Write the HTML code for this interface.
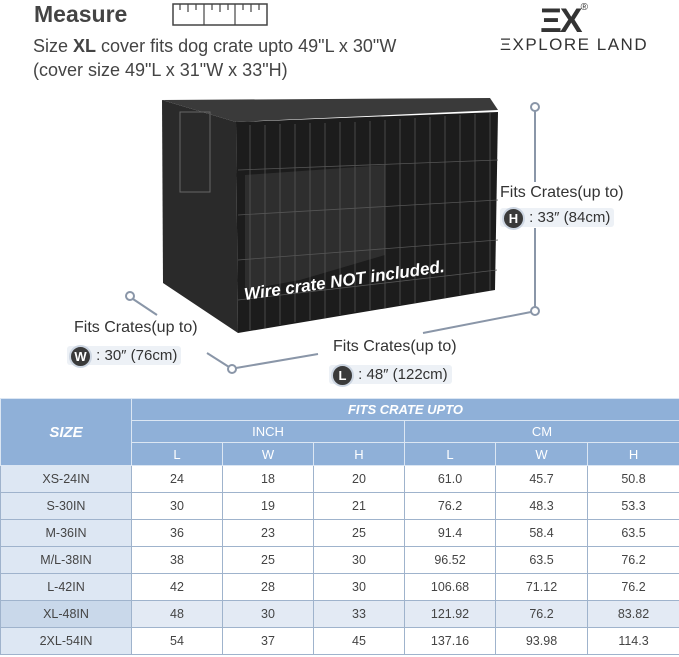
<!DOCTYPE html>
<html><head><style>
body{margin:0;width:679px;height:657px;background:#fff;font-family:"Liberation Sans",sans-serif;position:relative;overflow:hidden}
.a{position:absolute;white-space:nowrap}
table{position:absolute;left:0;top:398px;border-collapse:collapse;width:679px;table-layout:fixed}
td{text-align:center;font-size:12.5px;color:#444;border:1px solid #9fb3cc;padding:0;height:26px}
.h td{background:#8fb0d8;color:#fff;border-color:#dbe6f3;height:21px;font-size:13px}
.h3 td{height:22px}
td.s{background:#dde7f3}
tr.x td{background:#e3eaf4}
tr.x td.s{background:#c9d8ea}
.b{display:inline-block;width:19px;height:19px;border-radius:50%;background:#3a3a3a;color:#fff;font-weight:bold;font-size:13px;text-align:center;line-height:19px;border:2px solid #cdd6e2;vertical-align:middle}
.p{background:#edf1f6;border-radius:3px;padding:1px 4px 1px 2px}
</style></head><body>
<div class="a" style="left:34px;top:1px;font-size:23px;font-weight:bold;color:#444">Measure</div>
<svg class="a" style="left:172px;top:3px" width="96" height="24"><rect x="1" y="1" width="94" height="21" fill="#fff" stroke="#444" stroke-width="1.5"/><g stroke="#444" stroke-width="1.2"><line x1="32" y1="1" x2="32" y2="22"/><line x1="63" y1="1" x2="63" y2="22"/><path d="M8 1v6M16 1v8M24 1v6M40 1v6M48 1v8M56 1v6M71 1v6M79 1v8M87 1v6"/></g></svg>
<div class="a" style="left:33px;top:36px;font-size:18px;color:#444">Size <b>XL</b> cover fits dog crate upto 49"L x 30"W</div>
<div class="a" style="left:33px;top:60px;font-size:18px;color:#444">(cover size 49"L x 31"W x 33"H)</div>
<div class="a" style="left:540px;top:2px;font-size:34px;font-weight:bold;color:#333;letter-spacing:-2px">ΞX<span style="font-size:10px;vertical-align:top;font-weight:normal">®</span></div>
<div class="a" style="left:500px;top:35px;font-size:17px;color:#333;letter-spacing:1.5px">ΞXPLORE LAND</div>

<svg class="a" style="left:0;top:0" width="679" height="398">
<polygon points="162,100 236,122 238,333 163,283" fill="#2a2a2a"/>
<polygon points="162,100 490,98 498,110 236,122" fill="#3a3a3a"/>
<polygon points="236,122 498,112 495,290 238,333" fill="#1c1c1c"/>
<polygon points="245,175 385,165 385,255 300,280 245,290" fill="#2e2e2e"/>
<g stroke="#555" stroke-width="0.8">
<path d="M250 125V330M265 125V328M280 124V325M295 124V322M310 123V320M325 123V318M340 122V315M355 122V312M370 121V310M385 120V308M400 119V305M415 118V303M430 117V300M445 116V298M460 115V295M475 114V293M490 113V291"/>
<path d="M238 170L498 160M238 215L498 200M238 260L498 240M238 300L497 270"/>
</g>
<rect x="180" y="112" width="30" height="80" fill="none" stroke="#666"/>
<line x1="535" y1="108" x2="535" y2="182" stroke="#8a96a8" stroke-width="2"/>
<line x1="535" y1="228" x2="535" y2="310" stroke="#8a96a8" stroke-width="2"/>
<circle cx="535" cy="107" r="4" fill="#fff" stroke="#8a96a8" stroke-width="2"/>
<circle cx="535" cy="311" r="4" fill="#fff" stroke="#8a96a8" stroke-width="2"/>
<line x1="423" y1="333" x2="531" y2="312" stroke="#8a96a8" stroke-width="2"/>
<line x1="236" y1="368" x2="318" y2="354" stroke="#8a96a8" stroke-width="2"/>
<line x1="207" y1="353" x2="229" y2="367" stroke="#8a96a8" stroke-width="2"/>
<circle cx="232" cy="369" r="4" fill="#fff" stroke="#8a96a8" stroke-width="2"/>
<line x1="133" y1="299" x2="157" y2="315" stroke="#8a96a8" stroke-width="2"/>
<circle cx="130" cy="296" r="4" fill="#fff" stroke="#8a96a8" stroke-width="2"/>
<text x="245" y="300" transform="rotate(-8 245 300)" fill="#fff" font-size="17" font-weight="bold" font-style="italic" font-family="Liberation Sans">Wire crate NOT included.</text>
</svg>

<div class="a" style="left:500px;top:184px;font-size:16px;color:#333">Fits Crates(up to)</div>
<div class="a" style="left:500px;top:207px;font-size:15px;color:#333"><span class="p"><span class="b">H</span> : 33″ (84cm)</span></div>
<div class="a" style="left:74px;top:319px;font-size:16px;color:#333">Fits Crates(up to)</div>
<div class="a" style="left:67px;top:345px;font-size:15px;color:#333"><span class="p"><span class="b">W</span> : 30″ (76cm)</span></div>
<div class="a" style="left:333px;top:338px;font-size:16px;color:#333">Fits Crates(up to)</div>
<div class="a" style="left:329px;top:364px;font-size:15px;color:#333"><span class="p"><span class="b">L</span> : 48″ (122cm)</span></div>

<table>
<colgroup><col style="width:131px"><col style="width:91px"><col style="width:91px"><col style="width:91px"><col style="width:91px"><col style="width:92px"><col style="width:92px"></colgroup>
<tr class="h"><td rowspan="3" style="font-weight:bold;font-style:italic;font-size:15px">SIZE</td><td colspan="6" style="font-weight:bold;font-style:italic">FITS CRATE UPTO</td></tr>
<tr class="h"><td colspan="3">INCH</td><td colspan="3">CM</td></tr>
<tr class="h h3"><td>L</td><td>W</td><td>H</td><td>L</td><td>W</td><td>H</td></tr>
<tr><td class="s">XS-24IN</td><td>24</td><td>18</td><td>20</td><td>61.0</td><td>45.7</td><td>50.8</td></tr>
<tr><td class="s">S-30IN</td><td>30</td><td>19</td><td>21</td><td>76.2</td><td>48.3</td><td>53.3</td></tr>
<tr><td class="s">M-36IN</td><td>36</td><td>23</td><td>25</td><td>91.4</td><td>58.4</td><td>63.5</td></tr>
<tr><td class="s">M/L-38IN</td><td>38</td><td>25</td><td>30</td><td>96.52</td><td>63.5</td><td>76.2</td></tr>
<tr><td class="s">L-42IN</td><td>42</td><td>28</td><td>30</td><td>106.68</td><td>71.12</td><td>76.2</td></tr>
<tr class="x"><td class="s">XL-48IN</td><td>48</td><td>30</td><td>33</td><td>121.92</td><td>76.2</td><td>83.82</td></tr>
<tr><td class="s">2XL-54IN</td><td>54</td><td>37</td><td>45</td><td>137.16</td><td>93.98</td><td>114.3</td></tr>
</table>
</body></html>
